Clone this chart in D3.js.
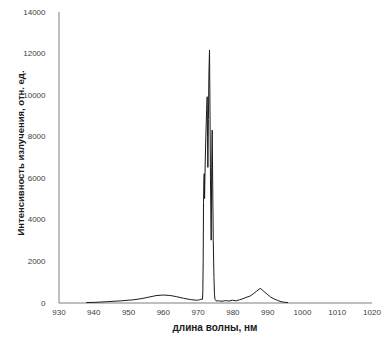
<!DOCTYPE html>
<html><head><meta charset="utf-8">
<script src="https://cdn.jsdelivr.net/npm/d3@7"></script>
<style>body{margin:0;background:#fff}svg{display:block}</style>
</head><body>
<svg id="c" width="391" height="346"></svg>
<script>
const wavelength = [938,940,942,944,946,948,950,951,952,954,956,958,960,962,964,966,968,969,970,970.5,971,971.4,971.5,971.6,971.7,971.8,971.9,972.0,972.1,972.2,972.4,972.6,972.75,972.85,972.95,973.1,973.25,973.42,973.55,973.7,973.9,974.05,974.19,974.35,974.5,974.7,974.85,975.0,975.3,976,977,978,979,980,981,982,983,984,985,986,987,988,988.5,989,990,991,992,993,994,995,996];
const intensity = [0,5,20,40,60,80,110,120,140,190,260,330,360,340,280,200,140,120,110,130,160,150,500,2000,4800,5800,6200,5000,6000,6800,8200,9300,9900,8000,6500,8800,11000,12150,9500,6000,3000,6500,8290,5500,3000,1200,400,150,80,80,60,90,70,110,80,130,180,250,300,420,550,680,620,540,400,260,170,100,40,10,0];
const xTicks = [930,940,950,960,970,980,990,1000,1010,1020];
const yTicks = [0,2000,4000,6000,8000,10000,12000,14000];
const xTitle = "длина волны, нм";
const yTitle = "Интенсивность излучения, отн. ед.";

const svg = d3.select("#c");
const x = d3.scaleLinear().domain([930,1020]).range([58.5,371.5]);
const y = d3.scaleLinear().domain([0,14000]).range([302.5,11.5]);
const font = "'Liberation Sans', Arial, sans-serif";

const xa = svg.append("g").attr("transform","translate(0,302.5)")
  .call(d3.axisBottom(x).tickValues(xTicks).tickSize(0).tickPadding(7).tickFormat(d3.format("d")));
const ya = svg.append("g").attr("transform","translate(58.5,0)")
  .call(d3.axisLeft(y).tickValues(yTicks).tickSize(0).tickPadding(13).tickFormat(d3.format("d")));
[xa,ya].forEach(a=>{
  a.select(".domain").attr("stroke","#7f7f7f").attr("stroke-width",1);
  a.selectAll("text").attr("font-family",font).attr("font-size",8).attr("fill","#404040");
});

const pts = wavelength.map((w,i)=>[w,intensity[i]]);
svg.append("path").datum(pts)
  .attr("fill","none").attr("stroke","#1a1a1a").attr("stroke-width",1)
  .attr("d", d3.line().x(d=>x(d[0])).y(d=>y(d[1])));

svg.append("text").attr("x",215).attr("y",331).attr("text-anchor","middle")
  .attr("font-family",font).attr("font-size",10).attr("font-weight","bold").attr("fill","#1a1a1a").text(xTitle);
svg.append("text").attr("transform","translate(24,153) rotate(-90)").attr("text-anchor","middle")
  .attr("font-family",font).attr("font-size",9.5).attr("font-weight","bold").attr("fill","#1a1a1a").text(yTitle);
</script>
</body></html>
